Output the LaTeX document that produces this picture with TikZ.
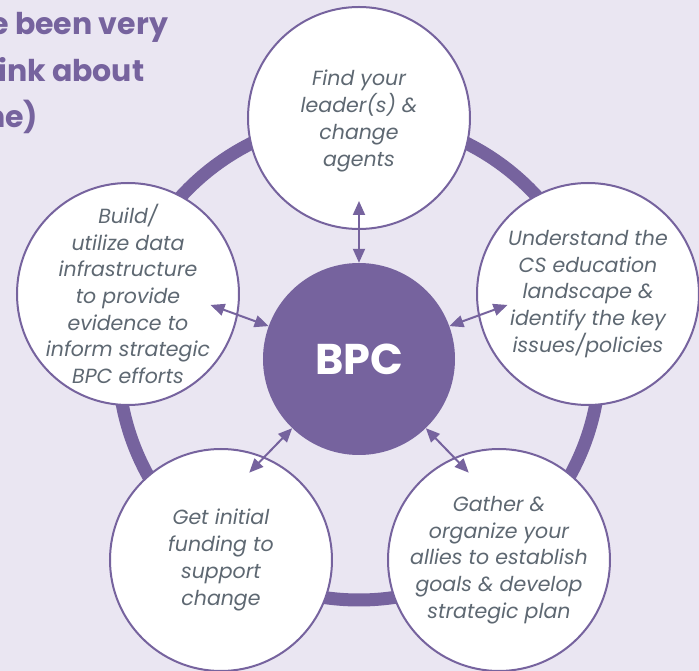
\documentclass[tikz,border=0pt]{standalone}
\usepackage{fontspec}
\setmainfont{Poppins}
\usepackage{xcolor}
\usetikzlibrary{arrows.meta}
\definecolor{bpcpurple}{HTML}{76639E}
\definecolor{bpcback}{HTML}{EAE6F2}
\definecolor{bpcgray}{HTML}{5E6872}

\begin{document}
\begin{tikzpicture}[x=1pt,y=1pt,
		s/.style={circle,draw=bpcpurple,line width=2pt,fill=white,minimum size=222pt,inner sep=0pt},
		t/.style={align=center,text=bpcgray,font=\fontsize{20.5}{26.7}\selectfont\itshape},
		i/.style={anchor=base west,inner sep=0pt,text=bpcpurple,font=\fontsize{30}{30}\selectfont\bfseries},
		ar/.style={bpcpurple,line width=2pt,{Triangle[length=14pt,width=12pt]}-{Triangle[length=14pt,width=12pt]}}]
					\fill[bpcback] (-359,359) rectangle (340,-312);
					\useasboundingbox (-359,359) rectangle (340,-312);
					\node[i] (intro1) at (-369,324) {e been very};
					\node[i] (intro2) at (-361,277) {ink about};
					\node[i] (intro3) at (-374,231) {ne)};
					\draw[bpcpurple,line width=13pt] (0,0) circle (241);
					\node[s] (find) at (0,241) {};
					\node[s] (data) at (-231,65) {};
					\node[s] (cs) at (229,65) {};
					\node[s] (fund) at (-138,-201) {};
					\node[s] (allies) at (140,-201) {};
					\node[t] (findtxt) at ([yshift=-3pt]find) {Find your\\leader(s) \&\\change\\agents};
					\node[t] (datatxt) at (data) {Build/\\utilize data\\infrastructure\\to provide\\evidence to\\inform strategic\\BPC efforts};
					\node[t] (cstxt) at (cs) {Understand the\\CS education\\landscape \&\\identify the key\\issues/policies};
					\node[t] (fundtxt) at (fund) {Get initial\\funding to\\support\\change};
					\node[t] (alliestxt) at (allies) {Gather \&\\organize your\\allies to establish\\goals \& develop\\strategic plan};
					\node[circle,fill=bpcpurple,minimum size=192pt,text=white,font=\fontsize{43}{43}\selectfont\bfseries] (bpc) at (0,0) {BPC};
					\foreach \a in {90,20,160,226,314} {
						\coordinate (e\a) at (\a:158);
						\draw[ar] (bpc.\a) -- (e\a);
					}
			\end{tikzpicture}
\end{document}
